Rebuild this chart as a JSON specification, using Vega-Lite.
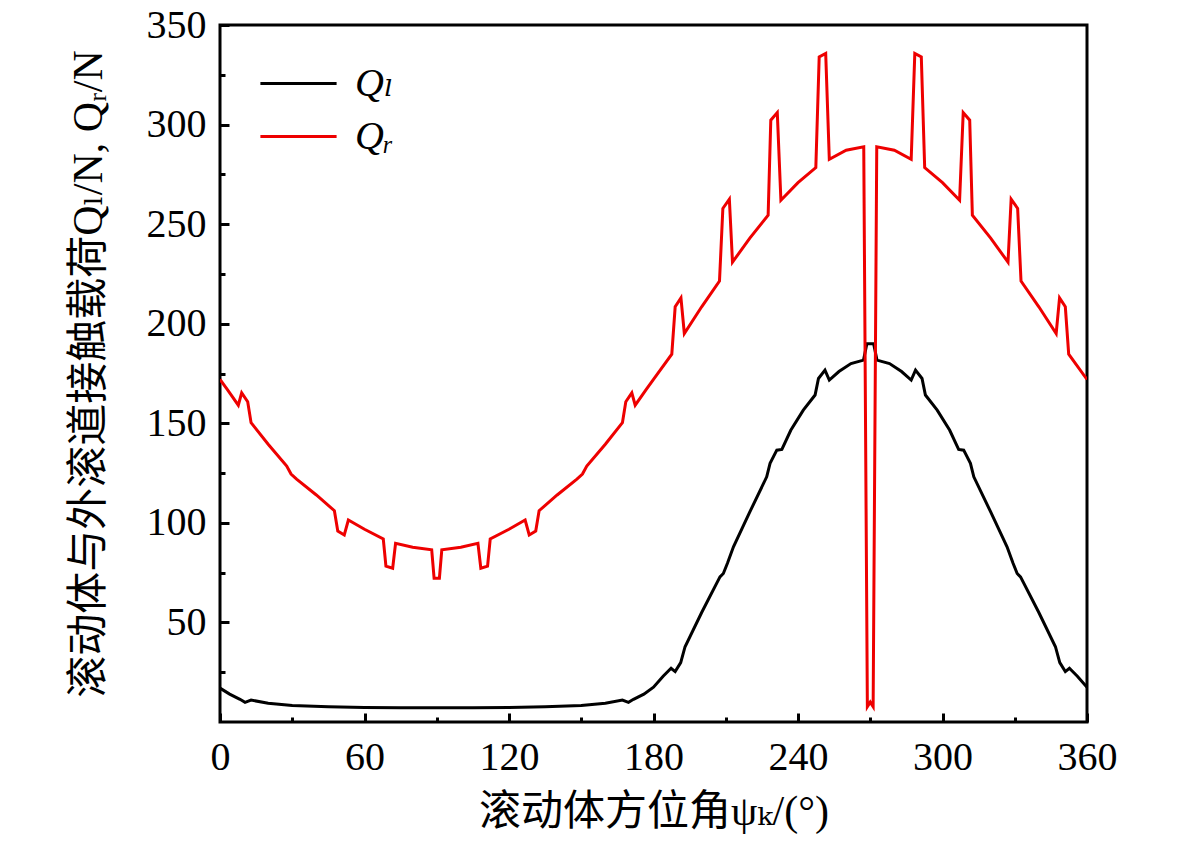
{
  "$schema": "https://vega.github.io/schema/vega-lite/v6.json",
  "width": 867,
  "height": 697,
  "autosize": {"type": "none"},
  "padding": {"left": 220, "top": 25, "right": 94, "bottom": 133},
  "background": "white",
  "config": {
    "view": {"stroke": "black", "strokeWidth": 3},
    "axis": {
      "domain": false,
      "grid": false,
      "ticks": true,
      "zindex": 1,
      "tickColor": "black",
      "tickWidth": 3,
      "labelColor": "black",
      "labelFont": "Liberation Serif",
      "labelFontSize": 40,
      "labelFlush": false,
      "labelOverlap": false,
      "titleColor": "black",
      "titleFont": "Liberation Serif, DejaVu Serif, Noto Sans CJK SC",
      "titleFontSize": 42,
      "titleFontWeight": "normal"
    }
  },
  "data": {
    "values": [
      {"a": 0, "q": 17, "s": "Qₗ"}, {"a": 4, "q": 14, "s": "Qₗ"}, {"a": 8.3, "q": 11.4, "s": "Qₗ"},
      {"a": 10.4, "q": 9.9, "s": "Qₗ"}, {"a": 12.9, "q": 11, "s": "Qₗ"}, {"a": 20, "q": 9.4, "s": "Qₗ"},
      {"a": 30, "q": 8.3, "s": "Qₗ"}, {"a": 45, "q": 7.6, "s": "Qₗ"}, {"a": 60, "q": 7.3, "s": "Qₗ"},
      {"a": 75, "q": 7.2, "s": "Qₗ"}, {"a": 90, "q": 7.1, "s": "Qₗ"}, {"a": 105, "q": 7.2, "s": "Qₗ"},
      {"a": 120, "q": 7.3, "s": "Qₗ"}, {"a": 135, "q": 7.6, "s": "Qₗ"}, {"a": 150, "q": 8.3, "s": "Qₗ"},
      {"a": 160, "q": 9.4, "s": "Qₗ"}, {"a": 167.1, "q": 11, "s": "Qₗ"}, {"a": 169.6, "q": 9.9, "s": "Qₗ"},
      {"a": 171.7, "q": 11.4, "s": "Qₗ"}, {"a": 176, "q": 14, "s": "Qₗ"}, {"a": 180, "q": 17.5, "s": "Qₗ"},
      {"a": 184, "q": 23, "s": "Qₗ"}, {"a": 187.3, "q": 27, "s": "Qₗ"}, {"a": 189, "q": 25.3, "s": "Qₗ"},
      {"a": 191.3, "q": 29.8, "s": "Qₗ"}, {"a": 193.1, "q": 37.8, "s": "Qₗ"}, {"a": 200, "q": 55, "s": "Qₗ"},
      {"a": 207.6, "q": 72.9, "s": "Qₗ"}, {"a": 209, "q": 74.6, "s": "Qₗ"}, {"a": 210.7, "q": 79.7, "s": "Qₗ"},
      {"a": 213.2, "q": 88, "s": "Qₗ"}, {"a": 220, "q": 105.5, "s": "Qₗ"}, {"a": 227, "q": 123.1, "s": "Qₗ"},
      {"a": 228.4, "q": 129.9, "s": "Qₗ"}, {"a": 231.2, "q": 136.5, "s": "Qₗ"}, {"a": 233.3, "q": 136.9, "s": "Qₗ"},
      {"a": 237, "q": 146.5, "s": "Qₗ"}, {"a": 242.2, "q": 156.6, "s": "Qₗ"}, {"a": 247.1, "q": 164.2, "s": "Qₗ"},
      {"a": 248.5, "q": 172.5, "s": "Qₗ"}, {"a": 251.2, "q": 176.7, "s": "Qₗ"}, {"a": 253, "q": 171.7, "s": "Qₗ"},
      {"a": 257, "q": 176, "s": "Qₗ"}, {"a": 262, "q": 180, "s": "Qₗ"}, {"a": 267.2, "q": 181.7, "s": "Qₗ"},
      {"a": 268.6, "q": 190, "s": "Qₗ"}, {"a": 271.4, "q": 190, "s": "Qₗ"}, {"a": 272.8, "q": 181.7, "s": "Qₗ"},
      {"a": 278, "q": 180, "s": "Qₗ"}, {"a": 283, "q": 176, "s": "Qₗ"}, {"a": 287, "q": 171.7, "s": "Qₗ"},
      {"a": 288.8, "q": 176.7, "s": "Qₗ"}, {"a": 291.5, "q": 172.5, "s": "Qₗ"}, {"a": 292.9, "q": 164.2, "s": "Qₗ"},
      {"a": 297.8, "q": 156.6, "s": "Qₗ"}, {"a": 303, "q": 146.5, "s": "Qₗ"}, {"a": 306.7, "q": 136.9, "s": "Qₗ"},
      {"a": 308.8, "q": 136.5, "s": "Qₗ"}, {"a": 311.6, "q": 129.9, "s": "Qₗ"}, {"a": 313, "q": 123.1, "s": "Qₗ"},
      {"a": 320, "q": 105.5, "s": "Qₗ"}, {"a": 326.8, "q": 88, "s": "Qₗ"}, {"a": 329.3, "q": 79.7, "s": "Qₗ"},
      {"a": 331, "q": 74.6, "s": "Qₗ"}, {"a": 332.4, "q": 72.9, "s": "Qₗ"}, {"a": 340, "q": 55, "s": "Qₗ"},
      {"a": 346.9, "q": 37.8, "s": "Qₗ"}, {"a": 348.7, "q": 29.8, "s": "Qₗ"}, {"a": 351, "q": 25.3, "s": "Qₗ"},
      {"a": 352.7, "q": 27, "s": "Qₗ"}, {"a": 356, "q": 23, "s": "Qₗ"}, {"a": 360, "q": 17.5, "s": "Qₗ"},

      {"a": 0, "q": 172, "s": "Qᵣ"}, {"a": 3, "q": 167, "s": "Qᵣ"}, {"a": 7.6, "q": 159.1, "s": "Qᵣ"},
      {"a": 9, "q": 165.3, "s": "Qᵣ"}, {"a": 11.5, "q": 160.8, "s": "Qᵣ"}, {"a": 12.9, "q": 150.3, "s": "Qᵣ"},
      {"a": 20, "q": 139.5, "s": "Qᵣ"}, {"a": 27.7, "q": 128.5, "s": "Qᵣ"}, {"a": 29.5, "q": 124.5, "s": "Qᵣ"},
      {"a": 31.8, "q": 122, "s": "Qᵣ"}, {"a": 40, "q": 114, "s": "Qᵣ"}, {"a": 47.5, "q": 106.1, "s": "Qᵣ"},
      {"a": 48.9, "q": 95.9, "s": "Qᵣ"}, {"a": 51.6, "q": 93.9, "s": "Qᵣ"}, {"a": 53.3, "q": 101.4, "s": "Qᵣ"},
      {"a": 60, "q": 96.8, "s": "Qᵣ"}, {"a": 67.8, "q": 91.9, "s": "Qᵣ"}, {"a": 68.9, "q": 78.3, "s": "Qᵣ"},
      {"a": 71.7, "q": 77.2, "s": "Qᵣ"}, {"a": 72.9, "q": 89.7, "s": "Qᵣ"}, {"a": 80, "q": 87.8, "s": "Qᵣ"},
      {"a": 87.9, "q": 86.5, "s": "Qᵣ"}, {"a": 88.9, "q": 72.2, "s": "Qᵣ"}, {"a": 91.1, "q": 72.2, "s": "Qᵣ"},
      {"a": 92.1, "q": 86.5, "s": "Qᵣ"}, {"a": 100, "q": 87.8, "s": "Qᵣ"}, {"a": 107.1, "q": 89.7, "s": "Qᵣ"},
      {"a": 108.3, "q": 77.2, "s": "Qᵣ"}, {"a": 111.1, "q": 78.3, "s": "Qᵣ"}, {"a": 112.2, "q": 91.9, "s": "Qᵣ"},
      {"a": 120, "q": 96.8, "s": "Qᵣ"}, {"a": 126.7, "q": 101.4, "s": "Qᵣ"}, {"a": 128.4, "q": 93.9, "s": "Qᵣ"},
      {"a": 131.1, "q": 95.9, "s": "Qᵣ"}, {"a": 132.5, "q": 106.1, "s": "Qᵣ"}, {"a": 140, "q": 114, "s": "Qᵣ"},
      {"a": 148.2, "q": 122, "s": "Qᵣ"}, {"a": 150.5, "q": 124.5, "s": "Qᵣ"}, {"a": 152.3, "q": 128.5, "s": "Qᵣ"},
      {"a": 160, "q": 139.5, "s": "Qᵣ"}, {"a": 167.1, "q": 150.3, "s": "Qᵣ"}, {"a": 168.5, "q": 160.8, "s": "Qᵣ"},
      {"a": 171, "q": 165.3, "s": "Qᵣ"}, {"a": 172.4, "q": 159.1, "s": "Qᵣ"}, {"a": 177, "q": 167, "s": "Qᵣ"},
      {"a": 180, "q": 172, "s": "Qᵣ"}, {"a": 187.6, "q": 184.7, "s": "Qᵣ"}, {"a": 189, "q": 208.5, "s": "Qᵣ"},
      {"a": 191.4, "q": 213, "s": "Qᵣ"}, {"a": 192.8, "q": 195.1, "s": "Qᵣ"}, {"a": 200, "q": 208.5, "s": "Qᵣ"},
      {"a": 207.4, "q": 221.4, "s": "Qᵣ"}, {"a": 208.8, "q": 257.9, "s": "Qᵣ"}, {"a": 211.5, "q": 262.5, "s": "Qᵣ"},
      {"a": 212.8, "q": 230.9, "s": "Qᵣ"}, {"a": 220, "q": 243, "s": "Qᵣ"}, {"a": 227.6, "q": 254.5, "s": "Qᵣ"},
      {"a": 228.7, "q": 302.2, "s": "Qᵣ"}, {"a": 231.4, "q": 306, "s": "Qᵣ"}, {"a": 232.9, "q": 262, "s": "Qᵣ"},
      {"a": 240, "q": 270.8, "s": "Qᵣ"}, {"a": 247.4, "q": 278.4, "s": "Qᵣ"}, {"a": 248.8, "q": 334, "s": "Qᵣ"},
      {"a": 251.5, "q": 335.7, "s": "Qᵣ"}, {"a": 253, "q": 282.6, "s": "Qᵣ"}, {"a": 260, "q": 287.1, "s": "Qᵣ"},
      {"a": 267.3, "q": 288.8, "s": "Qᵣ"}, {"a": 268.8, "q": 7.7, "s": "Qᵣ"}, {"a": 270, "q": 10, "s": "Qᵣ"},
      {"a": 271.2, "q": 7.7, "s": "Qᵣ"}, {"a": 272.7, "q": 288.8, "s": "Qᵣ"}, {"a": 280, "q": 287.1, "s": "Qᵣ"},
      {"a": 287, "q": 282.6, "s": "Qᵣ"}, {"a": 288.5, "q": 335.7, "s": "Qᵣ"}, {"a": 291.2, "q": 334, "s": "Qᵣ"},
      {"a": 292.6, "q": 278.4, "s": "Qᵣ"}, {"a": 300, "q": 270.8, "s": "Qᵣ"}, {"a": 307.1, "q": 262, "s": "Qᵣ"},
      {"a": 308.6, "q": 306, "s": "Qᵣ"}, {"a": 311.3, "q": 302.2, "s": "Qᵣ"}, {"a": 312.4, "q": 254.5, "s": "Qᵣ"},
      {"a": 320, "q": 243, "s": "Qᵣ"}, {"a": 327.2, "q": 230.9, "s": "Qᵣ"}, {"a": 328.5, "q": 262.5, "s": "Qᵣ"},
      {"a": 331.2, "q": 257.9, "s": "Qᵣ"}, {"a": 332.6, "q": 221.4, "s": "Qᵣ"}, {"a": 340, "q": 208.5, "s": "Qᵣ"},
      {"a": 347.2, "q": 195.1, "s": "Qᵣ"}, {"a": 348.6, "q": 213, "s": "Qᵣ"}, {"a": 351, "q": 208.5, "s": "Qᵣ"},
      {"a": 352.4, "q": 184.7, "s": "Qᵣ"}, {"a": 360, "q": 172, "s": "Qᵣ"}
    ]
  },
  "layer": [
    {
      "mark": {"type": "line", "strokeWidth": 3, "clip": true},
      "encoding": {
        "x": {
          "field": "a",
          "type": "quantitative",
          "scale": {"domain": [0, 360], "nice": false, "zero": false},
          "axis": {
            "orient": "bottom",
            "values": [0, 60, 120, 180, 240, 300, 360],
            "tickSize": -9,
            "labelPadding": 24,
            "title": "滚动体方位角ψₖ/(°)",
            "titlePadding": 14
          }
        },
        "y": {
          "field": "q",
          "type": "quantitative",
          "scale": {"domain": [0, 350], "nice": false},
          "axis": {
            "orient": "left",
            "values": [50, 100, 150, 200, 250, 300, 350],
            "tickSize": -9,
            "labelPadding": 23,
            "title": "滚动体与外滚道接触载荷Qₗ/N, Qᵣ/N",
            "titlePadding": 36
          }
        },
        "color": {
          "field": "s",
          "type": "nominal",
          "sort": ["Qₗ", "Qᵣ"],
          "scale": {"domain": ["Qₗ", "Qᵣ"], "range": ["#000000", "#ee0000"]},
          "legend": {
            "title": null,
            "orient": "none",
            "legendX": 47,
            "legendY": 27,
            "padding": 0,
            "symbolType": "M-1.27,0H1.27",
            "symbolSize": 3600,
            "symbolStrokeWidth": 3,
            "labelFont": "Liberation Serif, DejaVu Serif",
            "labelFontStyle": "italic",
            "labelFontSize": 40,
            "labelColor": "black",
            "labelOffset": 25,
            "rowPadding": 1
          }
        }
      }
    },
    {
      "mark": {"type": "line", "strokeOpacity": 0},
      "encoding": {
        "x": {
          "field": "a",
          "type": "quantitative",
          "axis": {
            "orient": "bottom",
            "values": [30, 90, 150, 210, 270, 330],
            "tickSize": -5,
            "labels": false,
            "title": null
          }
        },
        "y": {
          "field": "q",
          "type": "quantitative",
          "axis": {
            "orient": "left",
            "values": [25, 75, 125, 175, 225, 275, 325],
            "tickSize": -5,
            "labels": false,
            "title": null
          }
        },
        "detail": {"field": "s"}
      }
    }
  ],
  "resolve": {"axis": {"x": "independent", "y": "independent"}}
}
